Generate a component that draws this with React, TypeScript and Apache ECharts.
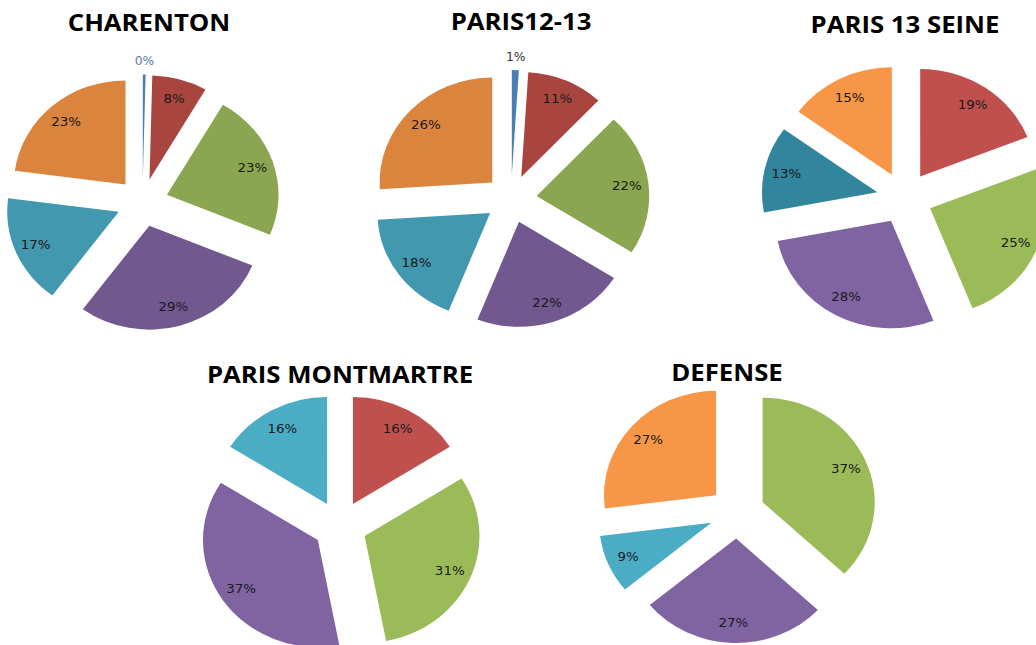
import React, { useEffect, useRef } from 'react';
import * as echarts from 'echarts';

// ---- Data ----
const categories = ['Catégorie 1', 'Catégorie 2', 'Catégorie 3', 'Catégorie 4', 'Catégorie 5', 'Catégorie 6'];
const siteNames = ['CHARENTON', 'PARIS12-13', 'PARIS 13 SEINE', 'PARIS MONTMARTRE', 'DEFENSE'];
const charentonValues: (number | null)[] = [0.4, 8, 23, 29, 17, 23];
const paris1213Values: (number | null)[] = [1, 11, 22, 22, 18, 26];
const paris13SeineValues: (number | null)[] = [null, 19, 25, 28, 13, 15];
const montmartreValues: (number | null)[] = [null, 16, 31, 37, 16, null];
const defenseValues: (number | null)[] = [null, null, 37, 27, 9, 27];
const allValues = [charentonValues, paris1213Values, paris13SeineValues, montmartreValues, defenseValues];

// ---- Styles / layout ----
const darkPalette = ['#4a7ebb', '#a8453f', '#8aa651', '#71588f', '#4298af', '#db843e'];
const seinePalette = ['#4f81bd', '#c0504d', '#9bbb59', '#8064a2', '#31859c', '#f79646'];
const standardPalette = ['#4f81bd', '#c0504d', '#9bbb59', '#8064a2', '#4bacc6', '#f79646'];
const palettes = [darkPalette, darkPalette, seinePalette, standardPalette, standardPalette];
// horizontal stretch of the original picture
const STRETCH = 1.073;
const layouts = [
  { cx: 142.5, cy: 202.5, r: 104, off: 24, tx: 149, ty: 9 },
  { cx: 511, cy: 199, r: 105, off: 24, tx: 521, ty: 8 },
  { cx: 904.5, cy: 198, r: 107.5, off: 26, tx: 905, ty: 11 },
  { cx: 340, cy: 526, r: 107, off: 25, tx: 340, ty: 361 },
  { cx: 737, cy: 512.5, r: 104.5, off: 26, tx: 727, ty: 359 },
];
const tinyLabelColors = ['#5a7ba3', '#333333'];

const pctFormatter = (p: any) => Math.round(p.percent) + '%';

export default function App() {
  const ref = useRef<HTMLDivElement>(null);
  useEffect(() => {
    if (!ref.current) return;
    const chart = echarts.init(ref.current, undefined, { renderer: 'svg' });
    const series: any[] = [];
    const titles: any[] = [];
    allValues.forEach((values, i) => {
      const L = layouts[i];
      const pal = palettes[i];
      const center = [L.cx / STRETCH, L.cy];
      const items = values
        .map((v, k) => (v == null ? null : { k, v }))
        .filter((x) => x !== null) as { k: number; v: number }[];
      const common = {
        type: 'pie',
        center,
        startAngle: 90,
        clockwise: true,
        selectedMode: 'multiple',
        selectedOffset: L.off,
        animation: false,
        emphasis: { disabled: true },
        labelLine: { show: false },
      };
      // slices
      series.push({
        ...common,
        radius: L.r,
        itemStyle: { borderWidth: 0 },
        label: { show: false },
        data: items.map(({ k, v }) => ({
          name: categories[k],
          value: v,
          selected: true,
          itemStyle: { color: pal[k] },
        })),
      });
      // inside labels
      series.push({
        ...common,
        radius: L.r * 1.56,
        silent: true,
        z: 5,
        itemStyle: { color: 'rgba(0,0,0,0)', borderWidth: 0 },
        data: items.map(({ k, v }) => ({
          name: categories[k],
          value: v,
          selected: true,
          label: {
            show: v >= 3,
            position: 'inside',
            formatter: pctFormatter,
            color: '#1a1a1a',
            fontFamily: 'DejaVu Sans',
            fontSize: 12.5,
          },
        })),
      });
      // labels of very thin slices, just beyond the rim
      if (items.some(({ v }) => v < 3)) {
        series.push({
          ...common,
          radius: (L.r + 10) * 2,
          silent: true,
          z: 5,
          itemStyle: { color: 'rgba(0,0,0,0)', borderWidth: 0 },
          data: items.map(({ k, v }) => ({
            name: categories[k],
            value: v,
            selected: true,
            label: {
              show: v < 3,
              position: 'inside',
              formatter: pctFormatter,
              color: tinyLabelColors[i] || '#333',
              fontFamily: 'DejaVu Sans',
              fontSize: 11.5,
            },
          })),
        });
      }
      titles.push({
        text: siteNames[i],
        left: L.tx / STRETCH,
        top: L.ty,
        textAlign: 'center',
        padding: 0,
        textStyle: {
          fontFamily: 'Open Sans',
          fontWeight: 'bold',
          fontSize: 24,
          color: '#000',
        },
      });
    });
    chart.setOption({
      animation: false,
      backgroundColor: '#ffffff',
      title: titles,
      series,
    });
    return () => chart.dispose();
  }, []);
  return (
    <div style={{ position: 'fixed', left: 0, top: 0, width: 1036, height: 645, overflow: 'hidden', background: '#fff' }}>
      <div
        ref={ref}
        style={{
          width: Math.round(1036 / STRETCH) + 1,
          height: 645,
          transform: `scaleX(${STRETCH})`,
          transformOrigin: '0 0',
        }}
      />
    </div>
  );
}
